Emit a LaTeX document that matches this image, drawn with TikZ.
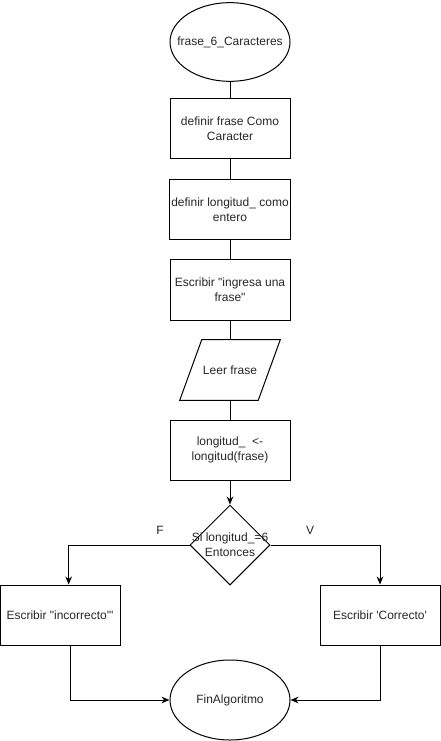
\documentclass[tikz,border=0pt]{standalone}
\usepackage{fontspec}
\newfontfamily\flowfont{Liberation Sans}
\usetikzlibrary{shapes.geometric,arrows.meta,calc}
\begin{document}
\begin{tikzpicture}[x=0.75pt,y=-0.75pt,
  every node/.style={font=\flowfont\fontsize{9}{11}\selectfont, text=black!85, align=center},
  box/.style={draw, line width=0.75pt, rectangle, minimum width=90pt, minimum height=45pt, inner sep=1pt},
  term/.style={draw, line width=0.75pt, ellipse, minimum width=90pt, minimum height=59pt, inner sep=0pt},
  decision/.style={draw, line width=0.75pt, diamond, minimum width=60pt, minimum height=60pt, inner sep=0pt},
  plain/.style={line width=0.75pt},
  arr/.style={line width=0.75pt, -{Stealth[length=6pt,width=5pt]}},
  lbl/.style={inner sep=0pt}
]
\useasboundingbox (0,0) rectangle (441,741);

% main column
\node[term] (start) at (230,42) {};
\node[lbl] (starttxt) at (start.center) {frase\_6\_Caracteres};
\node[box] (d1) at (230,129) {definir frase Como\\Caracter};
\node[box] (d2) at (230,210) {definir longitud\_ como\\entero};
\node[box] (w1) at (230,290) {Escribir "ingresa una\\frase"};
% input step: parallelogram drawn around a text node
\node[minimum width=100*0.75pt, minimum height=45pt, inner sep=0pt] (read) at (230,370) {Leer frase};
\draw[plain] ($(read.north west)+(22*0.75pt,0)$) -- (read.north east)
  -- ($(read.south east)+(-22*0.75pt,0)$) -- (read.south west) -- cycle;
\node[box] (asg) at (230,450) {longitud\_ \;<-\\longitud(frase)};
\node[decision] (cond) at (230,545) {};
\node[lbl] (condtxt) at (cond.center) {Si longitud\_=6\\Entonces};

% branches
\node[box] (bad) at (60,615) {Escribir "incorrecto'"};
\node[box] (good) at (380,615) {Escribir 'Correcto'};
\node[term, minimum height=60pt] (fin) at (230,700) {FinAlgoritmo};

% connectors
\draw[plain] (start) -- (d1);
\draw[plain] (d1) -- (d2);
\draw[plain] (d2) -- (w1);
\draw[plain] (w1) -- (read);
\draw[plain] (read) -- (asg);
\draw[arr] (asg) -- (cond);
\draw[arr] (cond.west) -| ([xshift=6.5pt]bad.north);
\draw[arr] (cond.east) -| (good.north);
\draw[arr] ([xshift=7.5pt]bad.south) |- (fin.west);
\draw[arr] (good.south) |- (fin.east);

% branch labels
\node[lbl] (lf) at (160,530) {F};
\node[lbl] (lv) at (310,530) {V};
\end{tikzpicture}
\end{document}
